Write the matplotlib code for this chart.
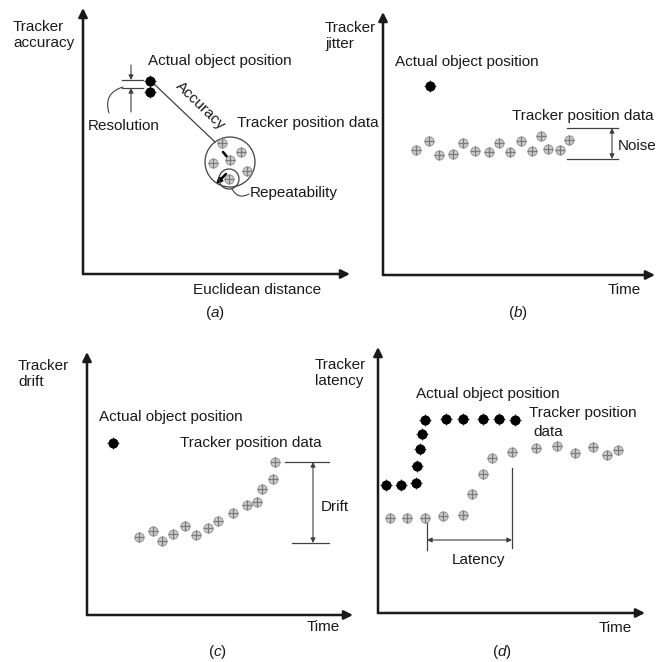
import matplotlib.pyplot as plt
from matplotlib.patches import Circle, FancyArrowPatch

plt.rcParams['font.family'] = ['Liberation Sans', 'DejaVu Sans']
plt.rcParams['mathtext.fontset'] = 'custom'
plt.rcParams['mathtext.rm'] = 'Liberation Sans'
plt.rcParams['mathtext.it'] = 'Liberation Sans:italic'

W, H = 656, 662
INK = '#1a1a1a'
THIN = '#404040'
FS = 11

## data (local units, origin at each panel's axis corner)
# (a) accuracy
a_actual_x = [67, 67]
a_actual_y = [193, 182]
a_track_x = [139, 158, 130, 164, 146, 147]
a_track_y = [131, 122, 111, 103, 95, 114]
a_circle = (147, 112, 25)

# (b) jitter
b_actual_x = [47]
b_actual_y = [189]
b_track_x = [33, 46, 56, 70, 80, 92, 106, 116, 127, 138, 149, 158, 165, 177, 186]
b_track_y = [125, 134, 120, 121, 132, 124, 123, 132, 123, 134, 124, 139, 126, 125, 135]

# (c) drift
c_actual_x = [26]
c_actual_y = [172]
c_track_x = [52, 66, 75, 86, 98, 109, 121, 131, 146, 160, 170, 175, 186, 188]
c_track_y = [78, 84, 74, 81, 89, 80, 87, 94, 102, 110, 113, 126, 136, 153]

# (d) latency
d_actual_x = [8, 23, 38, 39, 42, 44, 47, 68, 85, 105, 121, 137]
d_actual_y = [128, 128, 130, 147, 164, 179, 193, 194, 194, 194, 194, 193]
d_track_x = [12, 29, 47, 65, 85, 94, 105, 114, 134, 158, 179, 197, 215, 229, 240]
d_track_y = [95, 95, 95, 97, 98, 119, 139, 155, 161, 165, 167, 160, 166, 158, 163]


fig = plt.figure(figsize=(W / 100, H / 100), dpi=100)


def panel(box, origin):
    qx0, qy0, qx1, qy1 = box
    ox, oy = origin
    ax = fig.add_axes([qx0 / W, 1 - qy1 / H, (qx1 - qx0) / W, (qy1 - qy0) / H])
    ax.set_xlim(qx0 - ox, qx1 - ox)
    ax.set_ylim(oy - qy1, oy - qy0)
    ax.axis('off')
    return ax


def arrow(ax, p0, p1, style='-|>', lw=0.8, color=THIN, ms=8, conn='arc3'):
    ax.add_patch(FancyArrowPatch(p0, p1, arrowstyle=style, lw=lw, color=color,
                                 mutation_scale=ms, shrinkA=0, shrinkB=0,
                                 connectionstyle=conn, clip_on=False))


def frame(ax, xmax, ymax, ylab, ylab_x, ylab_y, xlab, xlab_x, xlab_y, tag, tag_x, tag_y):
    arrow(ax, (0, 0), (0, ymax), lw=1.8, color=INK, ms=13)
    arrow(ax, (0, 0), (xmax, 0), lw=1.8, color=INK, ms=13)
    ax.text(ylab_x, ylab_y, ylab, fontsize=FS, color=INK, ha='left', va='center',
            linespacing=1.1)
    ax.text(xlab_x, xlab_y, xlab, fontsize=FS, color=INK, ha='left', va='center')
    ax.text(tag_x, tag_y, r'$\mathrm{(}\mathit{%s}\mathrm{)}$' % tag, fontsize=FS,
            color=INK, ha='center', va='center')


def actual(ax, x, y):
    ax.plot(x, y, 'o', ms=6.3, color='black', clip_on=False, zorder=4)
    ax.plot(x, y, '+', ms=8, mew=0.7, color='#333333', clip_on=False, zorder=3)


def tracked(ax, x, y):
    ax.plot(x, y, 'o', ms=6.5, mfc='#cdcdcd', mec='#9a9a9a', mew=0.8,
            clip_on=False, zorder=4)
    ax.plot(x, y, '+', ms=6.5, mew=0.9, color='#7a7a7a', clip_on=False, zorder=5)


def label(ax, x, y, s, ha='left', **kw):
    ax.text(x, y, s, fontsize=FS, color=INK, ha=ha, va='center', clip_on=False, **kw)


# (a)
ax = panel((0, 0, 330, 330), (83, 274))
frame(ax, 267, 266, 'Tracker\naccuracy', -70, 239, 'Euclidean distance', 110, -16, 'a', 132, -39)
ax.plot([69, 132], [192, 132], color=THIN, lw=0.9)
label(ax, 117, 168, 'Accuracy', ha='center', rotation=-44, rotation_mode='anchor')
actual(ax, a_actual_x, a_actual_y)
cx, cy, r = a_circle
ax.add_patch(Circle((cx, cy), r, fill=False, ec=THIN, lw=0.9))
tracked(ax, a_track_x, a_track_y)
arrow(ax, (140, 122), (150, 110), lw=1.8, color='black', ms=7)
arrow(ax, (143, 100), (133, 90), lw=1.8, color='black', ms=7)
ax.add_patch(Circle((a_track_x[4], a_track_y[4]), 10, fill=False, ec=THIN, lw=0.9))
arrow(ax, (149, 85), (166, 80), style='-', conn='arc3,rad=0.5')
label(ax, 65, 213, 'Actual object position')
label(ax, 154, 151, 'Tracker position data')
label(ax, 167, 81, 'Repeatability')
# resolution marker
ax.plot([39, 60], [194, 194], color=THIN, lw=0.9)
ax.plot([39, 60], [186, 186], color=THIN, lw=0.9)
arrow(ax, (48, 209), (48, 194), ms=7)
arrow(ax, (48, 162), (48, 186), ms=7)
arrow(ax, (40, 187), (26, 161), style='-', conn='arc3,rad=0.5')
label(ax, 5, 148, 'Resolution')

# (b)
ax = panel((330, 0, 656, 330), (383, 275))
frame(ax, 272, 263, 'Tracker\njitter', -58, 239, 'Time', 225, -15, 'b', 135, -38)
actual(ax, b_actual_x, b_actual_y)
tracked(ax, b_track_x, b_track_y)
ax.plot([184, 235], [147, 147], color=THIN, lw=0.9)
ax.plot([184, 235], [116, 116], color=THIN, lw=0.9)
arrow(ax, (229, 116), (229, 147), style='<|-|>', ms=7)
label(ax, 12, 213, 'Actual object position')
label(ax, 129, 159, 'Tracker position data')
label(ax, 235, 129, 'Noise')

# (c)
ax = panel((0, 330, 330, 662), (87, 615))
frame(ax, 266, 263, 'Tracker\ndrift', -69, 241, 'Time', 220, -12, 'c', 130, -37)
actual(ax, c_actual_x, c_actual_y)
tracked(ax, c_track_x, c_track_y)
ax.plot([198, 248], [153, 153], color=THIN, lw=0.9)
ax.plot([205, 256], [72, 72], color=THIN, lw=0.9)
arrow(ax, (226, 72), (226, 153), style='<|-|>', ms=7)
label(ax, 12, 198, 'Actual object position')
label(ax, 93, 172, 'Tracker position data')
label(ax, 234, 108, 'Drift')

# (d)
ax = panel((330, 330, 656, 662), (378, 613))
frame(ax, 267, 266, 'Tracker\nlatency', -63, 240, 'Time', 221, -15, 'd', 124, -39)
actual(ax, d_actual_x, d_actual_y)
tracked(ax, d_track_x, d_track_y)
ax.plot([49, 49], [63, 90], color=THIN, lw=0.9)
ax.plot([134, 134], [65, 145], color=THIN, lw=0.9)
arrow(ax, (49, 73), (134, 73), style='<|-|>', ms=7)
label(ax, 38, 219, 'Actual object position')
label(ax, 151, 200, 'Tracker position')
label(ax, 155, 181, 'data')
label(ax, 74, 53, 'Latency')

fig.savefig('out.png', dpi=100)
